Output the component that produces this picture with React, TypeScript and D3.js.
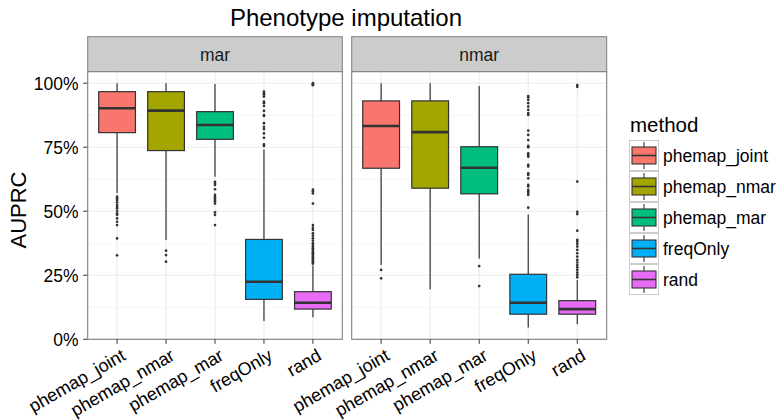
import React from 'react';
import * as d3 from 'd3';

// categories
const methods = ['phemap_joint', 'phemap_nmar', 'phemap_mar', 'freqOnly', 'rand'];
const fills = ['#F8766D', '#A3A500', '#00BF7D', '#00B0F6', '#E76BF3'];
const panels = ['mar', 'nmar'];
const yTicks = [0, 0.25, 0.5, 0.75, 1];
const yMinor = [0.125, 0.375, 0.625, 0.875];

// box stats, panel "mar"
const marLow = [0.571, 0.388, 0.635, 0.071, 0.086];
const marQ1 = [0.807, 0.737, 0.781, 0.156, 0.118];
const marMed = [0.902, 0.893, 0.837, 0.225, 0.143];
const marQ3 = [0.967, 0.967, 0.889, 0.39, 0.186];
const marHigh = [1.0, 1.0, 0.997, 0.741, 0.288];
const marOut = [
  [0.557, 0.551, 0.544, 0.535, 0.525, 0.518, 0.512, 0.502, 0.492, 0.486, 0.472, 0.459, 0.446, 0.394, 0.328],
  [0.346, 0.329, 0.303],
  [0.615, 0.61, 0.603, 0.586, 0.564, 0.557, 0.551, 0.544, 0.538, 0.53, 0.496, 0.486, 0.446],
  [0.967, 0.961, 0.955, 0.948, 0.928, 0.922, 0.911, 0.892, 0.876, 0.872, 0.844, 0.83, 0.821, 0.804, 0.787, 0.761, 0.755],
  [1.0, 0.996, 0.992, 0.585, 0.578, 0.57, 0.53, 0.446, 0.436, 0.427, 0.414, 0.405, 0.395, 0.385, 0.375, 0.368,
    0.362, 0.356, 0.35, 0.345, 0.34, 0.335, 0.33, 0.325, 0.32, 0.315, 0.31, 0.305, 0.3, 0.295],
];

// box stats, panel "nmar"
const nmarLow = [0.29, 0.195, 0.316, 0.046, 0.059];
const nmarQ1 = [0.668, 0.59, 0.568, 0.098, 0.098];
const nmarMed = [0.833, 0.809, 0.67, 0.143, 0.118];
const nmarQ3 = [0.931, 0.931, 0.752, 0.254, 0.151];
const nmarHigh = [1.0, 1.0, 0.989, 0.487, 0.232];
const nmarOut = [
  [0.271, 0.238],
  [],
  [0.286, 0.208],
  [0.95, 0.945, 0.935, 0.922, 0.909, 0.896, 0.883, 0.876, 0.815, 0.798, 0.778, 0.755, 0.75, 0.726, 0.72, 0.713,
    0.681, 0.675, 0.648, 0.642, 0.629, 0.603, 0.597, 0.584, 0.577, 0.571, 0.564, 0.514],
  [0.993, 0.986, 0.616, 0.498, 0.489, 0.424, 0.388, 0.381, 0.372, 0.362, 0.349, 0.336, 0.323, 0.31, 0.3, 0.29,
    0.281, 0.271, 0.26, 0.251, 0.242],
];

const panelStats = [
  { low: marLow, q1: marQ1, med: marMed, q3: marQ3, high: marHigh, out: marOut },
  { low: nmarLow, q1: nmarQ1, med: nmarMed, q3: nmarQ3, high: nmarHigh, out: nmarOut },
];

const FONT = '"Liberation Sans", Arial, Helvetica, sans-serif';
const W = 779;
const H = 420;
const panelTop = 71.7;
const panelBottom = 339.3;
const stripTop = 36.7;
const panelX = [[87.7, 342.3], [351.7, 606.7]];
const dark = '#333333';

const App = () => {
  const y = d3.scaleLinear().domain([0, 1.045]).range([panelBottom, panelTop]);
  const pct = d3.format('.0%');

  return (
    <svg width={W} height={H} style={{ position: 'absolute', left: 0, top: 0, display: 'block', background: '#fff' }}
      fontFamily={FONT}>
      <text x={346} y={26} textAnchor="middle" fontSize={24} fill="#000">Phenotype imputation</text>

      <text transform={`translate(26,210) rotate(-90)`} textAnchor="middle" fontSize={22} fill="#000">AUPRC</text>

      {/* y axis ticks and labels */}
      {yTicks.map(t => (
        <g key={'yt' + t}>
          <line x1={panelX[0][0] - 4.5} x2={panelX[0][0]} y1={y(t)} y2={y(t)} stroke={dark} strokeWidth={1} />
          <text x={78.5} y={y(t)} dy="0.36em" textAnchor="end" fontSize={17.5} fill="#000">{pct(t)}</text>
        </g>
      ))}

      {panels.map((p, pi) => {
        const [x0, x1] = panelX[pi];
        const x = d3.scalePoint<string>().domain(methods).range([x0, x1]).padding(0.6);
        const bw = x.step() * 0.75;
        const s = panelStats[pi];
        return (
          <g key={p}>
            {/* strip */}
            <rect x={x0} y={stripTop} width={x1 - x0} height={panelTop - stripTop} fill="#CCCCCC" stroke="#7F7F7F" strokeWidth={1} />
            <text x={(x0 + x1) / 2} y={60.5} textAnchor="middle" fontSize={17.5} fill="#1a1a1a">{p}</text>

            {/* panel background + grid */}
            <rect x={x0} y={panelTop} width={x1 - x0} height={panelBottom - panelTop} fill="#fff" />
            {yMinor.map(t => (
              <line key={'mn' + t} x1={x0} x2={x1} y1={y(t)} y2={y(t)} stroke="#F2F2F2" strokeWidth={0.7} />
            ))}
            {yTicks.map(t => (
              <line key={'mj' + t} x1={x0} x2={x1} y1={y(t)} y2={y(t)} stroke="#EBEBEB" strokeWidth={1.1} />
            ))}
            {methods.map(m => (
              <line key={'vg' + m} x1={x(m)} x2={x(m)} y1={panelTop} y2={panelBottom} stroke="#EBEBEB" strokeWidth={1.1} />
            ))}

            {/* boxplots */}
            {methods.map((m, i) => {
              const cx = x(m) as number;
              return (
                <g key={'bx' + m}>
                  <line x1={cx} x2={cx} y1={y(s.high[i])} y2={y(s.q3[i])} stroke={dark} strokeWidth={1.2} />
                  <line x1={cx} x2={cx} y1={y(s.q1[i])} y2={y(s.low[i])} stroke={dark} strokeWidth={1.2} />
                  <rect x={cx - bw / 2} y={y(s.q3[i])} width={bw} height={y(s.q1[i]) - y(s.q3[i])}
                    fill={fills[i]} stroke={dark} strokeWidth={1.2} />
                  <line x1={cx - bw / 2} x2={cx + bw / 2} y1={y(s.med[i])} y2={y(s.med[i])} stroke={dark} strokeWidth={2.6} />
                  {s.out[i].map((v, k) => (
                    <circle key={k} cx={cx} cy={y(v)} r={1.35} fill={dark} />
                  ))}
                </g>
              );
            })}

            {/* border */}
            <rect x={x0} y={panelTop} width={x1 - x0} height={panelBottom - panelTop} fill="none" stroke="#7F7F7F" strokeWidth={1.1} />

            {/* x ticks and labels */}
            {methods.map(m => (
              <g key={'xt' + m}>
                <line x1={x(m)} x2={x(m)} y1={panelBottom} y2={panelBottom + 4.5} stroke={dark} strokeWidth={1} />
                <text transform={`translate(${(x(m) as number) + 3},${panelBottom + 8}) rotate(-30)`}
                  textAnchor="end" dy="0.75em" fontSize={18} fill="#000">{m}</text>
              </g>
            ))}
          </g>
        );
      })}

      {/* legend */}
      <text x={630} y={131.5} fontSize={20.5} fill="#000">method</text>
      {methods.map((m, i) => {
        const top = 140 + i * 31;
        const kx = 629;
        const kw = 30;
        const kh = 31;
        const cx = kx + kw / 2;
        return (
          <g key={'lg' + m}>
            <rect x={kx + 0.5} y={top + 0.5} width={kw - 1} height={kh - 1} fill="#fff" stroke="#CCCCCC" strokeWidth={1} />
            <line x1={cx} x2={cx} y1={top + 2} y2={top + kh - 2} stroke={dark} strokeWidth={1.1} />
            <rect x={kx + 3} y={top + 7} width={kw - 6} height={kh - 14} fill={fills[i]} stroke={dark} strokeWidth={1.1} />
            <line x1={kx + 3} x2={kx + kw - 3} y1={top + kh / 2} y2={top + kh / 2} stroke={dark} strokeWidth={1.6} />
            <text x={663} y={top + kh / 2} dy="0.36em" fontSize={17.5} fill="#000">{m}</text>
          </g>
        );
      })}
    </svg>
  );
};

export default App;
